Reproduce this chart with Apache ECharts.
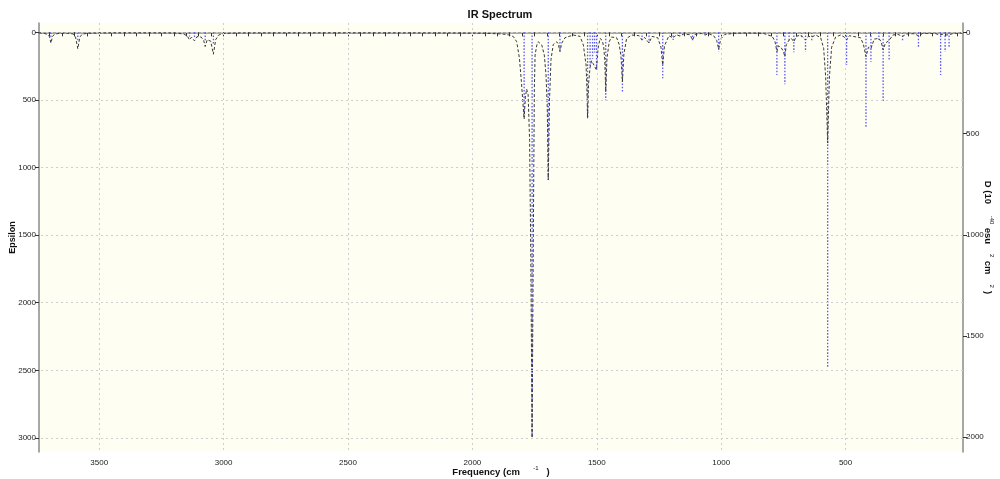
<!DOCTYPE html>
<html>
<head>
<meta charset="utf-8">
<script src="https://cdn.jsdelivr.net/npm/echarts@6/dist/echarts.min.js"></script>
<style>
html,body{margin:0;padding:0;background:#fff;}
#chart{width:1000px;height:479px;}
</style>
</head>
<body>
<div id="chart"></div>
<script>
// Stick spectrum: frequency (cm-1) and dipole strength D (right axis)
const stickFreq = [3694, 3586, 3137, 3117, 3074, 3041, 1792, 1760, 1695, 1648, 1537, 1527, 1517, 1509, 1501, 1464, 1397, 1318, 1290, 1235, 1193, 1166, 1115, 1065, 1010, 776, 744, 727, 708, 677, 661, 636, 572, 496, 418, 398, 366, 349, 325, 271, 207, 118, 100, 84];
const stickD    = [26, 40, 21, 24, 40, 62, 423, 1995, 729, 87, 423, 175, 130, 100, 185, 335, 293, 46, 53, 227, 38, 20, 46, 15, 96, 211, 257, 46, 99, 30, 96, 46, 1658, 161, 466, 145, 38, 339, 137, 46, 71, 211, 96, 76];

// Broadened spectrum: frequency (cm-1) and Epsilon (left axis)
const lineFreq = [3742,3725,3708,3700,3694,3688,3680,3660,3630,3605,3595,3586,3578,3568,3545,3450,3300,3200,3160,3145,3137,3129,3117,3107,3090,3080,3074,3066,3052,3041,3032,3020,3000,2950,2700,2400,2100,1950,1880,1850,1835,1822,1811,1803,1797,1792,1787,1782,1776,1770,1765,1760,1755,1751,1748,1741,1735,1728,1721,1711,1704,1699,1695,1690,1684,1675,1661,1655,1648,1641,1628,1594,1567,1554,1543,1540,1537,1533,1527,1521,1515,1509,1501,1495,1487,1478,1472,1468,1464,1459,1450,1441,1420,1410,1403,1397,1391,1380,1360,1330,1318,1308,1290,1278,1255,1242,1235,1228,1210,1193,1180,1166,1150,1125,1115,1105,1080,1065,1050,1030,1018,1010,1002,985,950,900,830,795,784,776,770,760,750,744,738,727,718,708,698,680,661,650,636,620,600,588,580,572,565,556,540,520,505,496,485,440,428,418,408,398,385,366,357,349,340,325,310,290,271,255,225,207,190,140,125,118,110,100,92,84,70,50,28];
const lineEps  = [4,6,15,32,80,32,14,7,6,12,35,122,35,13,7,4,4,5,12,30,56,36,63,32,35,60,105,55,65,162,55,20,9,5,4,4,5,7,12,20,32,69,190,365,520,641,480,420,460,800,1700,3000,1500,420,168,94,70,80,94,168,316,560,1092,500,200,90,70,85,143,80,40,20,30,94,242,400,636,380,260,210,230,240,279,120,45,60,110,200,440,190,70,35,40,90,170,365,160,45,20,25,57,38,79,30,40,110,242,100,25,42,18,27,12,18,57,15,8,20,10,25,60,125,50,15,8,5,8,30,65,143,100,110,140,180,90,57,45,70,30,20,57,30,35,20,40,120,330,819,330,110,35,20,35,57,25,40,90,180,110,120,50,45,70,130,80,60,20,15,30,12,10,25,8,8,18,25,16,20,14,18,10,6,5];

// Tick / grid values
const xTickLabels = [500, 1000, 1500, 2000, 2500, 3000, 3500];
const xMinorTicks = [];
for (let v = 50; v <= 3700; v += 50) xMinorTicks.push(v);
const yLeftTicks = [0, 500, 1000, 1500, 2000, 2500, 3000];
const yRightTicks = [0, 500, 1000, 1500, 2000];

const lineData = lineFreq.map((f, i) => [f, lineEps[i]]);
const stickData = stickFreq.map((f, i) => [f, stickD[i]]);

const FONT = 'Liberation Sans, Arial, sans-serif';
const axisGrey = '#8a8a8a';
const plain = v => String(v);
const labelStyle = {color: '#222', fontSize: 8, fontFamily: FONT, formatter: plain};
const gridLine = {type: [2, 3], color: '#cfcfcf', width: 1};
const nameRich = {
  b: {fontSize: 9.5, fontWeight: 'bold', color: '#111', fontFamily: FONT, lineHeight: 14},
  s: {fontSize: 6, color: '#111', fontFamily: FONT, verticalAlign: 'top'}
};

const chart = echarts.init(document.getElementById('chart'), null, {renderer: 'canvas'});
chart.setOption({
  animation: false,
  backgroundColor: '#ffffff',
  title: {
    text: 'IR Spectrum', left: 'center', top: 4,
    textStyle: {fontSize: 11, fontWeight: 'bold', color: '#111', fontFamily: FONT}
  },
  grid: {left: 39, right: 37, top: 23, bottom: 27, show: true, backgroundColor: '#fefef2', borderWidth: 0,
         containLabel: false, outerBoundsMode: 'none'},
  xAxis: {
    type: 'value', inverse: true, min: 28, max: 3742,
    name: '{b|Frequency (cm}{s|        -1}{b|   )}',
    nameLocation: 'middle', nameGap: 13, nameMoveOverlap: false,
    nameTextStyle: {rich: nameRich},
    axisLine: {show: true, lineStyle: {color: axisGrey, width: 1.5}},
    axisTick: {show: true, length: 4, customValues: xMinorTicks, lineStyle: {color: '#333'}},
    axisLabel: {customValues: xTickLabels, margin: 7, ...labelStyle},
    splitLine: {show: false}
  },
  yAxis: [{
    type: 'value', inverse: true, min: -69, max: 3104, position: 'left',
    name: 'Epsilon', nameLocation: 'middle', nameGap: 22, nameMoveOverlap: false,
    nameTextStyle: {fontSize: 9, fontWeight: 'bold', color: '#111', fontFamily: FONT},
    axisLine: {show: true, onZero: false, lineStyle: {color: axisGrey, width: 1.5}},
    axisTick: {show: true, length: 4, customValues: yLeftTicks, lineStyle: {color: '#333'}},
    axisLabel: {customValues: yLeftTicks, margin: 3, ...labelStyle},
    splitLine: {show: false}
  }, {
    type: 'value', inverse: true, min: -46, max: 2073, position: 'right',
    name: '{b|D (10}{s|       -40  }{b|esu}{s|      2  }{b|cm}{s|      2  }{b|)}',
    nameLocation: 'middle', nameGap: 18, nameRotate: -90, nameMoveOverlap: false,
    nameTextStyle: {rich: nameRich},
    axisLine: {show: true, onZero: false, lineStyle: {color: axisGrey, width: 1.5}},
    axisTick: {show: true, length: 4, customValues: yRightTicks, lineStyle: {color: '#333'}},
    axisLabel: {customValues: yRightTicks, margin: 3, ...labelStyle},
    splitLine: {show: false}
  }],
  series: [{
    type: 'line', xAxisIndex: 0, yAxisIndex: 0, data: [], silent: true,
    markLine: {
      silent: true, symbol: ['none', 'none'], label: {show: false},
      lineStyle: gridLine, animation: false,
      data: yLeftTicks.map(v => ({yAxis: v})).concat(xTickLabels.map(v => ({xAxis: v})))
    }
  }, {
    type: 'custom', xAxisIndex: 0, yAxisIndex: 1, data: stickData, silent: true,
    renderItem: function (params, api) {
      const f = api.value(0), d = api.value(1);
      const p0 = api.coord([f, 0]);
      const p1 = api.coord([f, d]);
      return {
        type: 'line',
        shape: {x1: p0[0], y1: p0[1], x2: p1[0], y2: p1[1]},
        style: {stroke: '#5a5aff', lineWidth: 1.3, lineDash: [1.6, 1.6]}
      };
    }
  }, {
    type: 'line', xAxisIndex: 0, yAxisIndex: 0, data: lineData, silent: true,
    symbol: 'none', showSymbol: false,
    lineStyle: {color: '#3a3a3a', width: 1, type: [3, 2]}
  }]
});
</script>
</body>
</html>
